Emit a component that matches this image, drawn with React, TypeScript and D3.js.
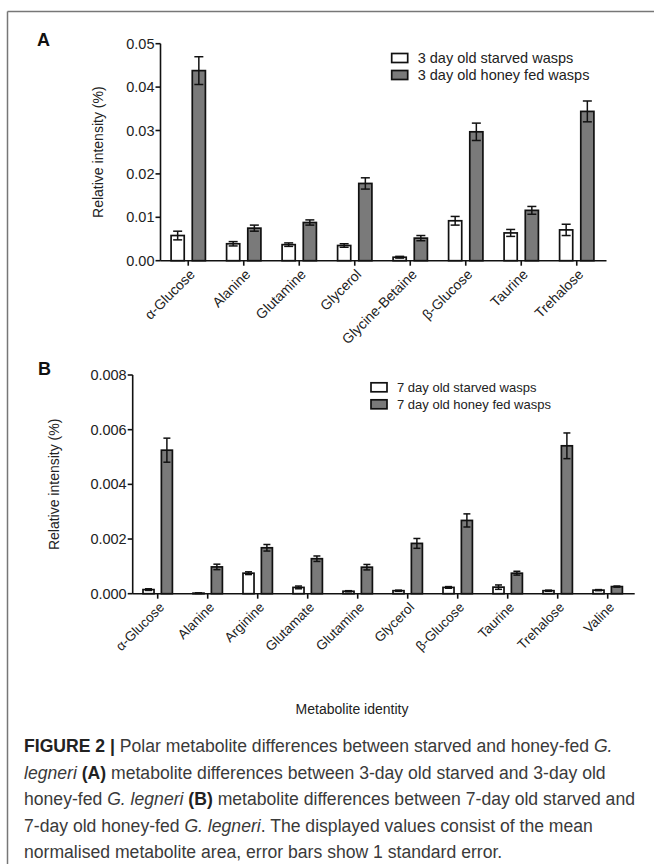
import React from 'react';
import * as d3 from 'd3';

// Panel A: 3 day old wasps
const catsA = ['α-Glucose', 'Alanine', 'Glutamine', 'Glycerol', 'Glycine-Betaine', 'β-Glucose', 'Taurine', 'Trehalose'];
const starvedA = [0.0058, 0.0039, 0.0037, 0.0035, 0.0008, 0.0092, 0.0064, 0.0071];
const starvedAErr = [0.0010, 0.0005, 0.0004, 0.0004, 0.0002, 0.0010, 0.0008, 0.0013];
const honeyA = [0.0438, 0.0075, 0.0088, 0.0178, 0.0052, 0.0297, 0.0116, 0.0344];
const honeyAErr = [0.0032, 0.0007, 0.0006, 0.0013, 0.0006, 0.0020, 0.0009, 0.0024];
const ticksA = [0, 0.01, 0.02, 0.03, 0.04, 0.05];
const legendA = ['3 day old starved wasps', '3 day old honey fed wasps'];

// Panel B: 7 day old wasps
const catsB = ['α-Glucose', 'Alanine', 'Arginine', 'Glutamate', 'Glutamine', 'Glycerol', 'β-Glucose', 'Taurine', 'Trehalose', 'Valine'];
const starvedB = [0.00015, 0.00002, 0.00075, 0.00023, 0.00009, 0.00011, 0.00023, 0.00024, 0.00011, 0.00013];
const starvedBErr = [0.00003, 0.00001, 0.00005, 0.00005, 0.00002, 0.00002, 0.00003, 0.00008, 0.00002, 0.00002];
const honeyB = [0.00525, 0.00098, 0.00168, 0.00128, 0.00097, 0.00184, 0.00268, 0.00075, 0.00541, 0.00026];
const honeyBErr = [0.00044, 0.0001, 0.00012, 0.0001, 0.0001, 0.00018, 0.00024, 0.00007, 0.00047, 0.00002];
const ticksB = [0, 0.002, 0.004, 0.006, 0.008];
const legendB = ['7 day old starved wasps', '7 day old honey fed wasps'];

const FONT = '"Liberation Sans", Arial, Helvetica, sans-serif';
const HONEY = '#7a7a7a';

function Panel({ cats, starved, starvedErr, honey, honeyErr, ticks, fmt, legend,
  xRange, yRange, subPad, tickFont, labelFont, legendX, legendY, legendFont, ylabelX, cap }) {
  const x = d3.scaleBand().domain(cats).range(xRange);
  const sub = d3.scaleBand().domain(['starved', 'honey']).range([0, x.bandwidth()])
    .paddingInner(subPad[0]).paddingOuter(subPad[1]);
  const y = d3.scaleLinear().domain([ticks[0], ticks[ticks.length - 1]]).range(yRange);
  const y0 = y(0);
  const series = [
    { key: 'starved', vals: starved, errs: starvedErr, fill: '#ffffff' },
    { key: 'honey', vals: honey, errs: honeyErr, fill: HONEY },
  ];
  const f = d3.format(fmt);
  return (
    <g fontFamily={FONT}>
      {/* bars */}
      {series.map(s => cats.map((c, i) => {
        const bx = x(c)! + sub(s.key)!;
        const bw = sub.bandwidth();
        const top = y(s.vals[i]);
        const cx = bx + bw / 2;
        const eh = y(s.vals[i] + s.errs[i]);
        const el = y(Math.max(0, s.vals[i] - s.errs[i]));
        return (
          <g key={s.key + c}>
            <rect x={bx} y={top} width={bw} height={Math.max(0.5, y0 - top)}
              fill={s.fill} stroke="#111" strokeWidth={1.7} />
            <line x1={cx} x2={cx} y1={eh} y2={el} stroke="#111" strokeWidth={1.5} />
            <line x1={cx - cap} x2={cx + cap} y1={eh} y2={eh} stroke="#111" strokeWidth={1.5} />
            <line x1={cx - cap} x2={cx + cap} y1={el} y2={el} stroke="#111" strokeWidth={1.5} />
          </g>
        );
      }))}
      {/* y axis */}
      <line x1={xRange[0]} x2={xRange[0]} y1={y0} y2={y(ticks[ticks.length - 1])} stroke="#111" strokeWidth={1.6} />
      {ticks.map(t => (
        <g key={t}>
          <line x1={xRange[0] - 5} x2={xRange[0]} y1={y(t)} y2={y(t)} stroke="#111" strokeWidth={1.6} />
          <text x={xRange[0] - 6} y={y(t)} dy="0.35em" textAnchor="end" fontSize={tickFont} fill="#222">{f(t)}</text>
        </g>
      ))}
      <text transform={`translate(${ylabelX},${(yRange[0] + yRange[1]) / 2}) rotate(-90)`}
        textAnchor="middle" fontSize={14} fill="#222">Relative intensity (%)</text>
      {/* x axis */}
      <line x1={xRange[0]} x2={xRange[1] + 2} y1={y0} y2={y0} stroke="#111" strokeWidth={1.6} />
      {cats.map(c => {
        const tx = x(c)! + x.bandwidth() / 2;
        return (
          <g key={c}>
            <line x1={tx} x2={tx} y1={y0} y2={y0 + 5} stroke="#111" strokeWidth={1.6} />
            <text transform={`translate(${tx + 4},${y0 + 11}) rotate(-45)`} textAnchor="end"
              dy="0.35em" fontSize={labelFont} fill="#222">{c}</text>
          </g>
        );
      })}
      {/* legend */}
      {legend.map((l, i) => (
        <g key={l} transform={`translate(${legendX},${legendY + i * 17})`}>
          <rect x={0} y={-4.5} width={16} height={9} fill={i === 0 ? '#fff' : HONEY} stroke="#111" strokeWidth={1.7} />
          <text x={26} y={0} dy="0.35em" fontSize={legendFont} fill="#222">{l}</text>
        </g>
      ))}
    </g>
  );
}

export default function App() {
  const capLines: React.ReactNode[] = [
    <><tspan fontWeight="bold" fill="#222">FIGURE 2 |</tspan> Polar metabolite differences between starved and honey-fed <tspan fontStyle="italic">G.</tspan></>,
    <><tspan fontStyle="italic">legneri</tspan> <tspan fontWeight="bold" fill="#222">(A)</tspan> metabolite differences between 3-day old starved and 3-day old</>,
    <>honey-fed <tspan fontStyle="italic">G. legneri</tspan> <tspan fontWeight="bold" fill="#222">(B)</tspan> metabolite differences between 7-day old starved and</>,
    <>7-day old honey-fed <tspan fontStyle="italic">G. legneri</tspan>. The displayed values consist of the mean</>,
    <>normalised metabolite area, error bars show 1 standard error.</>,
  ];
  return (
    <svg width={654} height={864} style={{ position: 'absolute', left: 0, top: 0, background: '#fff' }}>
      <rect x={0} y={0} width={654} height={864} fill="#fff" />
      {/* figure frame */}
      <line x1={7.5} x2={654} y1={11.5} y2={11.5} stroke="#777" strokeWidth={1.5} />
      <line x1={7.5} x2={7.5} y1={11.5} y2={864} stroke="#777" strokeWidth={1.5} />

      <text x={37} y={46} fontFamily={FONT} fontWeight="bold" fontSize={18} fill="#111">A</text>
      <Panel cats={catsA} starved={starvedA} starvedErr={starvedAErr} honey={honeyA} honeyErr={honeyAErr}
        ticks={ticksA} fmt=".2f" legend={legendA} xRange={[160.5, 604.5]} yRange={[260.7, 43.7]}
        subPad={[0.38, 0.5]} tickFont={14.5} labelFont={14} legendX={391.7} legendY={58}
        legendFont={14.5} ylabelX={103} cap={4.5} />

      <text x={38} y={375} fontFamily={FONT} fontWeight="bold" fontSize={18} fill="#111">B</text>
      <Panel cats={catsB} starved={starvedB} starvedErr={starvedBErr} honey={honeyB} honeyErr={honeyBErr}
        ticks={ticksB} fmt=".3f" legend={legendB} xRange={[132.7, 632.7]} yRange={[593.7, 375]}
        subPad={[0.4, 0.56]} tickFont={14.5} labelFont={13.5} legendX={371} legendY={387.3}
        legendFont={13} ylabelX={59} cap={3.5} />

      <text x={352} y={709} dy="0.35em" textAnchor="middle" fontFamily={FONT} fontSize={14} fill="#222">Metabolite identity</text>

      {capLines.map((c, i) => (
        <text key={i} x={24} y={752 + i * 26.5} fontFamily={FONT} fontSize={17.6} fill="#3a3a3a">{c}</text>
      ))}
    </svg>
  );
}
